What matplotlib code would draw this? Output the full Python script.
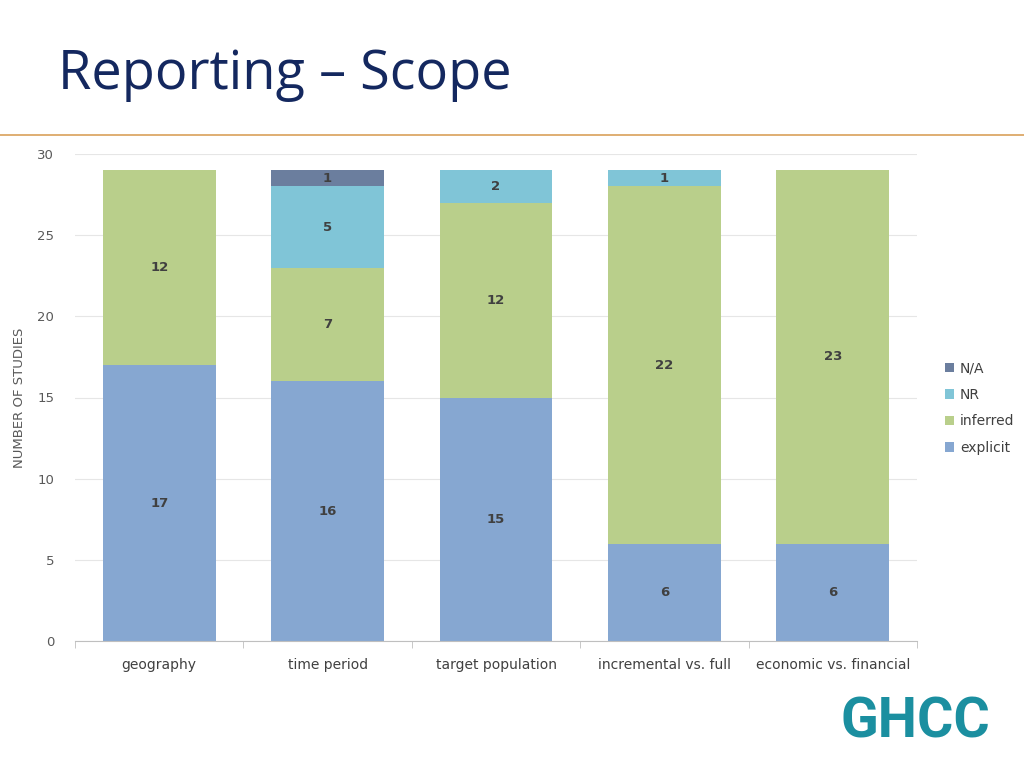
import matplotlib
matplotlib.use("Agg")
import matplotlib.pyplot as plt
import numpy as np

categories = ["geography", "time period", "target population", "incremental vs. full", "economic vs. financial"]
explicit = [17, 16, 15, 6, 6]
inferred = [12, 7, 12, 22, 23]
nr = [0, 5, 2, 1, 0]
na = [0, 1, 0, 0, 0]
series = [("explicit", explicit, "#86A7D1"), ("inferred", inferred, "#B9CF8B"),
          ("NR", nr, "#80C5D7"), ("N/A", na, "#6B7E9E")]

W, H = 1024, 768
fig = plt.figure(figsize=(W/100, H/100), dpi=100)
fig.text(58/W, 1-75/H, "Reporting – Scope", fontsize=39, color="#14285F",
         va="center", ha="left", family="Open Sans")
fig.add_artist(plt.Line2D([0, 1], [1-135/H, 1-135/H], color="#D9A15A", lw=1.2))

ax = fig.add_axes([75/W, 1-641/H, (917-75)/W, (641-154)/H])
x = np.arange(len(categories))
bottom = np.zeros(len(categories))
handles = []
for name, vals, col in series:
    vals = np.array(vals, float)
    b = ax.bar(x, vals, 0.67, bottom=bottom, color=col, label=name)
    handles.append(b)
    for xi, v, bt in zip(x, vals, bottom):
        if v > 0:
            ax.text(xi, bt + v/2, f"{int(v)}", ha="center", va="center",
                    fontsize=9.5, fontweight="bold", color="#404040")
    bottom += vals

ax.set_xlim(-0.5, len(categories)-0.5)
ax.set_ylim(0, 30)
ax.set_yticks(range(0, 31, 5))
ax.set_xticks(x)
ax.set_xticklabels(categories)
ax.yaxis.grid(True, color="#E6E6E6", lw=0.8)
ax.set_axisbelow(True)
for s in ["top", "right", "left"]:
    ax.spines[s].set_visible(False)
ax.spines["bottom"].set_color("#BFBFBF")
ax.tick_params(axis="y", length=0, labelsize=9.5, colors="#595959", pad=15)
ax.tick_params(axis="x", length=0, labelsize=10, colors="#404040", pad=12)
ax.set_xticks(np.arange(-0.5, len(categories)), minor=True)
ax.tick_params(axis="x", which="minor", length=5, color="#BFBFBF")
ax.set_ylabel("NUMBER OF STUDIES", fontsize=9.5, color="#595959", labelpad=8)

ax.legend(handles[::-1], [s[0] for s in series][::-1], loc="center left",
          bbox_to_anchor=(932/W, 1-408/H), bbox_transform=fig.transFigure,
          frameon=False, fontsize=10, handlelength=0.7, handleheight=0.7,
          handletextpad=0.4, labelspacing=0.9, labelcolor="#404040")

fig.text(915/W, 1-722/H, "GHCC", fontsize=40, fontweight="bold", color="#1B8FA0",
         ha="center", va="center", family="Roboto", stretch="condensed")
fig.savefig("out.png", dpi=100)
